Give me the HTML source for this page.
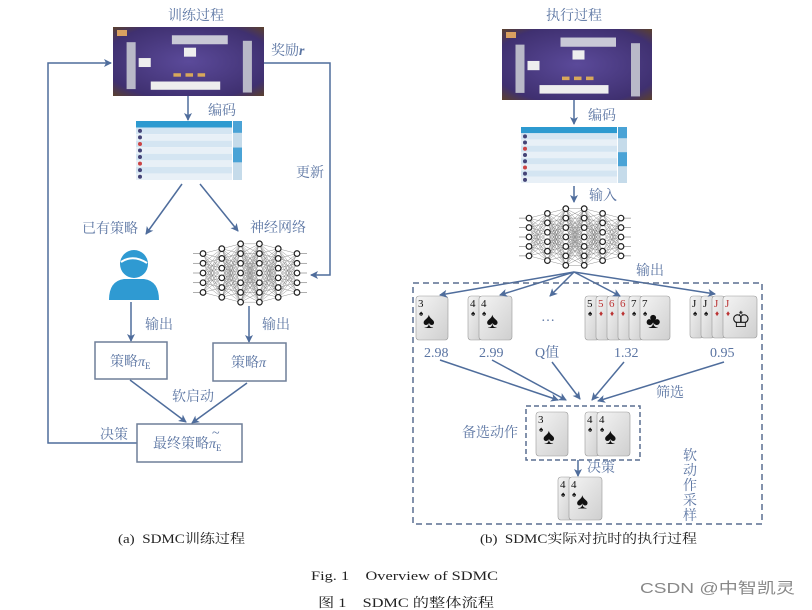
<!DOCTYPE html>
<html><head><meta charset="utf-8"><style>
html,body{margin:0;padding:0;background:#fff;}
svg{display:block;}
text{font-family:"Liberation Serif","Noto Serif CJK SC",serif;white-space:pre;}
.b{fill:#5a74a2;font-size:14px;}
.k{fill:#222;font-size:13px;}
</style></head><body>
<svg id="s" width="812" height="610" viewBox="0 0 812 610" xmlns="http://www.w3.org/2000/svg">
<defs>
<marker id="a" markerWidth="8" markerHeight="8" refX="7" refY="4" orient="auto" markerUnits="userSpaceOnUse"><path d="M0,0 L8,4 L0,8 L2,4z" fill="#4f6d9c"/></marker>
<linearGradient id="cg" x1="0" y1="0" x2="1" y2="1"><stop offset="0" stop-color="#f4f4f4"/><stop offset="1" stop-color="#cfcfcf"/></linearGradient>
<radialGradient id="pg" cx="0.5" cy="0.5" r="0.7"><stop offset="0" stop-color="#5b4a9a"/><stop offset="0.8" stop-color="#3f3070"/><stop offset="1" stop-color="#5a4030"/></radialGradient>
</defs>
<g id="g"></g>
<g stroke="#4f6d9c" stroke-width="1.5" fill="none">
<line x1="188" y1="96" x2="188" y2="120" marker-end="url(#a)"/>
<line x1="182" y1="184" x2="146" y2="234" marker-end="url(#a)"/>
<line x1="200" y1="184" x2="238" y2="231" marker-end="url(#a)"/>
<polyline points="264,63 330,63 330,275 311,275" marker-end="url(#a)"/>
<polyline points="137,443 48,443 48,63 111,63" marker-end="url(#a)"/>
<line x1="131" y1="302" x2="131" y2="341" marker-end="url(#a)"/>
<line x1="249" y1="306" x2="249" y2="342" marker-end="url(#a)"/>
<line x1="130" y1="380" x2="186" y2="422" marker-end="url(#a)"/>
<line x1="247" y1="383" x2="192" y2="423" marker-end="url(#a)"/>
<rect x="95" y="342" width="72" height="37" stroke="#6f7f98"/>
<rect x="213" y="343" width="73" height="38" stroke="#6f7f98"/>
<rect x="137" y="424" width="105" height="38" stroke="#6f7f98"/>
<line x1="574" y1="100" x2="574" y2="124" marker-end="url(#a)"/>
<line x1="574" y1="186" x2="574" y2="202" marker-end="url(#a)"/>
<line x1="574" y1="272" x2="440" y2="295" marker-end="url(#a)"/>
<line x1="574" y1="272" x2="500" y2="295" marker-end="url(#a)"/>
<line x1="574" y1="272" x2="550" y2="296" marker-end="url(#a)"/>
<line x1="574" y1="272" x2="620" y2="296" marker-end="url(#a)"/>
<line x1="574" y1="272" x2="715" y2="294" marker-end="url(#a)"/>
<line x1="440" y1="360" x2="558" y2="400" marker-end="url(#a)"/>
<line x1="492" y1="360" x2="566" y2="400" marker-end="url(#a)"/>
<line x1="552" y1="362" x2="580" y2="399" marker-end="url(#a)"/>
<line x1="624" y1="362" x2="592" y2="400" marker-end="url(#a)"/>
<line x1="724" y1="362" x2="598" y2="401" marker-end="url(#a)"/>
<line x1="578" y1="460" x2="578" y2="476" marker-end="url(#a)"/>
<rect x="413" y="283" width="349" height="241" stroke-dasharray="6,4" stroke="#5a6f90"/>
<rect x="526" y="406" width="114" height="54" stroke-dasharray="5,3" stroke="#5a6f90"/>
</g>
<g fill="#2f9ad2">
<circle cx="134" cy="264" r="14"/>
<path d="M109,300 Q109,281 124,279 L144,279 Q159,281 159,300 Z"/>
</g>
<path d="M121,262 Q133,254 147,263" stroke="#fff" stroke-width="2" fill="none"/>
<text class="b" x="168" y="20" font-size="15">训练过程</text>
<text class="b" x="271" y="55">奖励<tspan font-style="italic" font-weight="bold">r</tspan></text>
<text class="b" x="208" y="115">编码</text>
<text class="b" x="296" y="177">更新</text>
<text class="b" x="82" y="233">已有策略</text>
<text class="b" x="250" y="232">神经网络</text>
<text class="b" x="145" y="329">输出</text>
<text class="b" x="262" y="329">输出</text>
<text class="b" x="110" y="366">策略<tspan font-style="italic">π</tspan><tspan font-size="9" dy="3">E</tspan></text>
<text class="b" x="231" y="367">策略<tspan font-style="italic">π</tspan></text>
<text class="b" x="172" y="401">软启动</text>
<text class="b" x="100" y="439">决策</text>
<text class="b" x="153" y="448">最终策略<tspan font-style="italic">π</tspan><tspan font-size="9" dy="3">E</tspan></text>
<text class="b" x="212" y="437" font-size="10">~</text>
<text class="k" x="118" y="543" textLength="127" lengthAdjust="spacingAndGlyphs">(a)  SDMC训练过程</text>
<text class="b" x="546" y="20" font-size="15">执行过程</text>
<text class="b" x="588" y="120">编码</text>
<text class="b" x="589" y="200">输入</text>
<text class="b" x="636" y="275">输出</text>
<text class="b" x="541" y="321">…</text>
<text class="b" x="424" y="357">2.98</text>
<text class="b" x="479" y="357">2.99</text>
<text class="b" x="535" y="357">Q值</text>
<text class="b" x="614" y="357">1.32</text>
<text class="b" x="710" y="357">0.95</text>
<text class="b" x="656" y="397">筛选</text>
<text class="b" x="462" y="437">备选动作</text>
<text class="b" x="587" y="472">决策</text>
<text class="b" x="683" y="460">软</text>
<text class="b" x="683" y="475">动</text>
<text class="b" x="683" y="490">作</text>
<text class="b" x="683" y="505">采</text>
<text class="b" x="683" y="520">样</text>
<text class="k" x="480" y="543" textLength="217" lengthAdjust="spacingAndGlyphs">(b)  SDMC实际对抗时的执行过程</text>
<text class="k" x="311" y="580" font-size="14" textLength="187" lengthAdjust="spacingAndGlyphs">Fig. 1    Overview of SDMC</text>
<text class="k" x="318" y="607" font-size="14" textLength="176" lengthAdjust="spacingAndGlyphs">图 1    SDMC 的整体流程</text>
<text x="640" y="593" fill="#888" font-size="15" textLength="155" lengthAdjust="spacingAndGlyphs" style="font-family:'Liberation Sans','Noto Sans CJK SC',sans-serif">CSDN @中智凯灵</text>
</svg>
<script>
var g=document.getElementById('g'),NS='http://www.w3.org/2000/svg';
function el(t,a){var e=document.createElementNS(NS,t);for(var k in a)e.setAttribute(k,a[k]);g.appendChild(e);return e;}
function board(x,y,w,h){
 el('rect',{x:x,y:y,width:w,height:h,fill:'url(#pg)'});
 el('rect',{x:x+w*0.39,y:y+h*0.12,width:w*0.37,height:h*0.13,fill:'#c9c9d6'});
 el('rect',{x:x+w*0.09,y:y+h*0.22,width:w*0.06,height:h*0.68,fill:'#b9b9c8'});
 el('rect',{x:x+w*0.86,y:y+h*0.2,width:w*0.06,height:h*0.75,fill:'#b9b9c8'});
 el('rect',{x:x+w*0.25,y:y+h*0.79,width:w*0.46,height:h*0.12,fill:'#eee'});
 el('rect',{x:x+w*0.17,y:y+h*0.45,width:w*0.08,height:h*0.13,fill:'#eee'});
 el('rect',{x:x+w*0.47,y:y+h*0.3,width:w*0.08,height:h*0.13,fill:'#eee'});
 el('rect',{x:x+4,y:y+3,width:10,height:6,fill:'#d9a060'});
 for(var i=0;i<3;i++)el('rect',{x:x+w*(0.4+i*0.08),y:y+h*0.67,width:w*0.05,height:h*0.05,fill:'#d8a85a'});
}
board(113,27,151,69);board(502,29,150,71);
function table(x,y,w,h){
 var rows=9,rh=h/rows;
 for(var r=0;r<rows;r++){el('rect',{x:x,y:y+r*rh,width:w-10,height:rh,fill:r==0?'#2d9ad0':(r%2?'#d4e5f2':'#e8f0f7')});}
 el('rect',{x:x+w-9,y:y,width:9,height:h,fill:'#c5dbea'});
 el('rect',{x:x+w-9,y:y+h*0.45,width:9,height:h*0.25,fill:'#4aa3d6'});
 el('rect',{x:x+w-9,y:y,width:9,height:h*0.2,fill:'#4aa3d6'});
 for(var r=1;r<rows;r++)el('circle',{cx:x+4,cy:y+r*rh+rh/2,r:2,fill:r%3==0?'#c44':'#447'});
}
table(136,121,106,59);table(521,127,106,56);
function nn(x,y,w,h){
 var cols=[5,6,7,7,6,5],pts=[];
 for(var c=0;c<6;c++){var n=cols[c],col=[];var sp=h/7.2;var top=y+h/2-(n-1)*sp/2;for(var i=0;i<n;i++)col.push([x+10+c*(w-20)/5,top+i*sp]);pts.push(col);}
 for(var c=0;c<5;c++)pts[c].forEach(function(a){pts[c+1].forEach(function(b){el('line',{x1:a[0],y1:a[1],x2:b[0],y2:b[1],stroke:'#777','stroke-width':0.4});});});
 pts[0].forEach(function(a){el('line',{x1:a[0]-10,y1:a[1],x2:a[0],y2:a[1],stroke:'#777','stroke-width':0.6});});
 pts[5].forEach(function(a){el('line',{x1:a[0],y1:a[1],x2:a[0]+10,y2:a[1],stroke:'#777','stroke-width':0.6});});
 pts.forEach(function(col){col.forEach(function(a){el('circle',{cx:a[0],cy:a[1],r:2.8,fill:'#fff',stroke:'#222','stroke-width':1.2});});});
}
nn(193,238,114,70);nn(519,203,112,68);
function card(x,y,w,h,v,big,red){
 el('rect',{x:x,y:y,width:w,height:h,rx:3,fill:'url(#cg)',stroke:'#999','stroke-width':0.6});
 var t=el('text',{x:x+2,y:y+11,'font-size':11,fill:red?'#b33':'#111','font-family':'Liberation Sans'});t.textContent=v;
 var s=el('text',{x:x+3,y:y+20,'font-size':8,fill:red?'#b33':'#111'});s.textContent=red?'♦':'♠';
 if(big){var b=el('text',{x:x+w/2-9,y:y+h/2+10,'font-size':22,fill:'#111'});b.textContent=big;}
}
card(416,296,32,44,'3','♠');
card(468,296,14,44,'4');card(479,296,33,44,'4','♠');
[['5',0],['5',1],['6',1],['6',1],['7',0]].forEach(function(c,i){card(585+i*11,296,14,44,c[0],null,c[1]);});
card(640,296,30,44,'7','♣');
for(var i=0;i<3;i++)card(690+i*11,296,13,42,'J',null,i>1);
card(723,296,34,42,'J','♔',1);
card(536,412,32,44,'3','♠');
card(585,412,14,44,'4');card(597,412,33,44,'4','♠');
card(558,477,14,43,'4');card(569,477,33,43,'4','♠');
</script>
</body></html>
